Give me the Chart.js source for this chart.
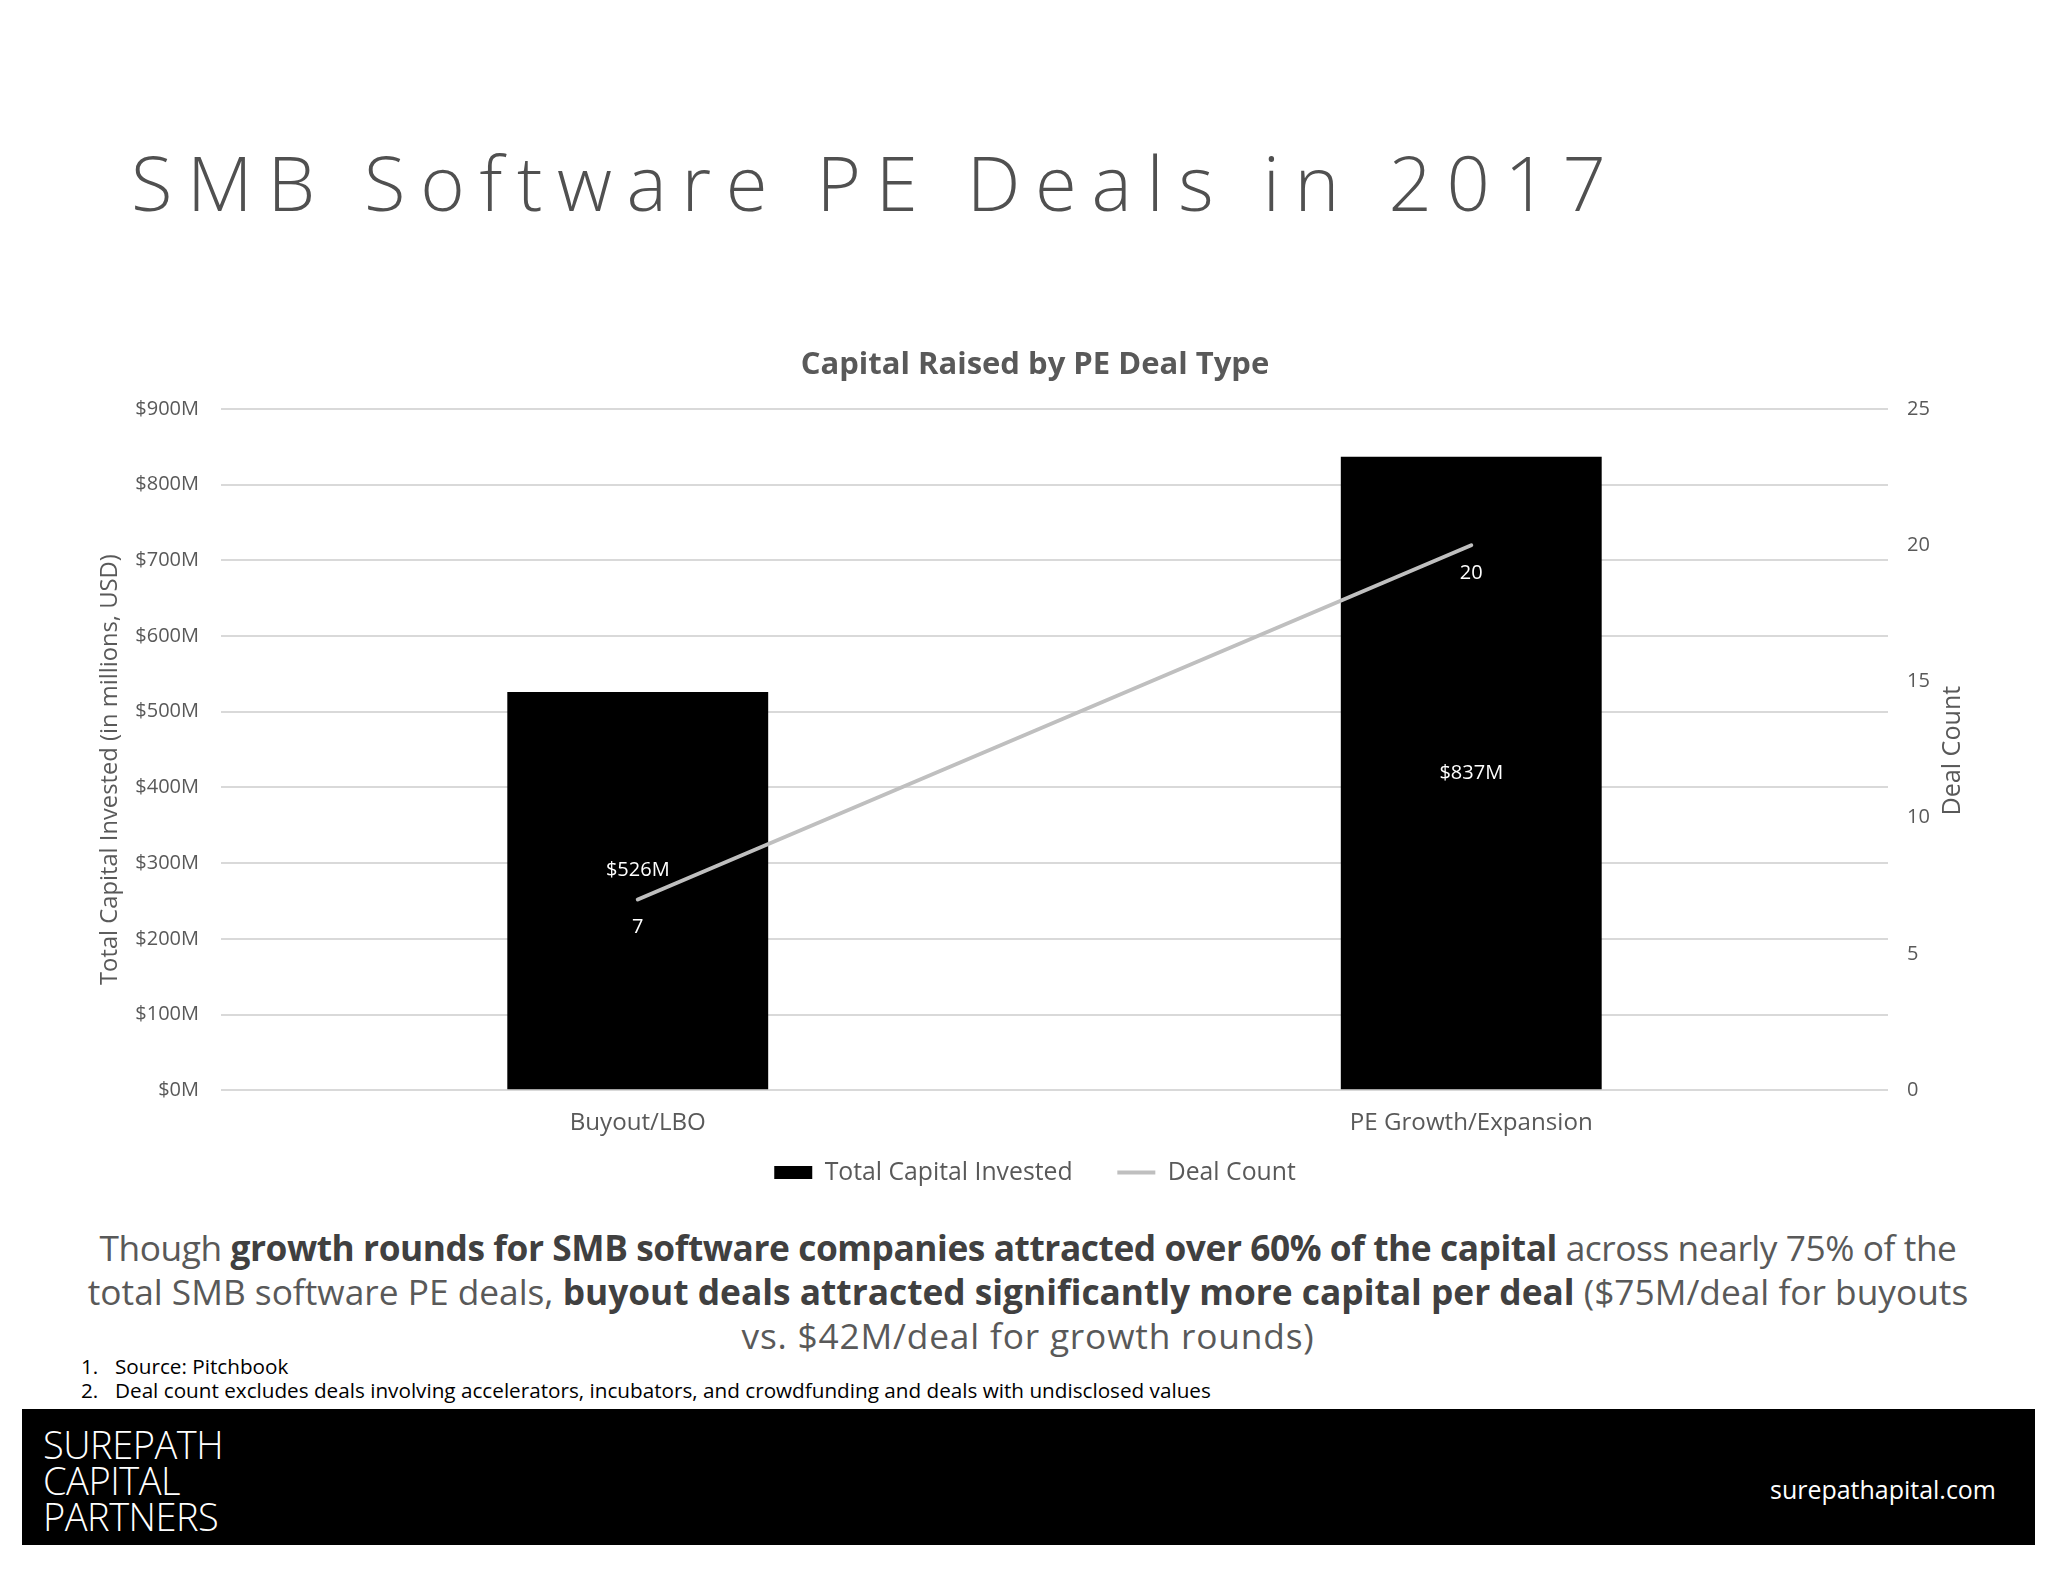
<!DOCTYPE html>
<html>
<head>
<meta charset="utf-8">
<script src="https://cdn.jsdelivr.net/npm/chart.js@4/dist/chart.umd.min.js"></script>
<style>
  html, body { margin: 0; padding: 0; background: #fff; }
  body { width: 2048px; height: 1582px; position: relative; overflow: hidden; font-family: "Open Sans", sans-serif; }
  #title { position: absolute; left: 131px; top: 144px; font-size: 76px; line-height: 1; font-weight: 300; color: #505050; white-space: nowrap; }
  #chartBox { position: absolute; left: 0; top: 300px; width: 2048px; height: 900px; }
  #para { position: absolute; left: 0; width: 2056px; top: 1225px; text-align: center; color: #595959; font-size: 35px; line-height: 44px; }
  #para b { color: #404040; font-weight: 700; }
  #para span.ln { white-space: nowrap; }
  .note { position: absolute; font-size: 18px; line-height: 24px; color: #000; white-space: nowrap; }
  #footer { position: absolute; left: 22px; top: 1409px; width: 2013px; height: 136px; background: #000; }
  #logo { position: absolute; left: 21px; top: 17px; color: #fff; font-size: 38px; line-height: 36px; font-weight: 300; white-space: nowrap; }
  #site { position: absolute; right: 39px; top: 66px; color: #fff; font-size: 24px; line-height: 28px; white-space: nowrap; }
</style>
</head>
<body>
<div id="title">SMB Software PE Deals in 2017</div>
<div id="chartBox"><canvas id="c"></canvas></div>
<div id="para">
  <span class="ln" id="l1">Though <b>growth rounds for SMB software companies attracted over 60% of the capital</b> across nearly 75% of the</span><br>
  <span class="ln" id="l2">total SMB software PE deals, <b>buyout deals attracted significantly more capital per deal</b> ($75M/deal for buyouts</span><br>
  <span class="ln" id="l3">vs. $42M/deal for growth rounds)</span>
</div>
<div class="note" style="left:81px; top:1354px;">1.</div>
<div class="note" id="n1" style="left:115px; top:1354px;">Source: Pitchbook</div>
<div class="note" style="left:81px; top:1378px;">2.</div>
<div class="note" id="n2" style="left:115px; top:1378px;">Deal count excludes deals involving accelerators, incubators, and crowdfunding and deals with undisclosed values</div>
<div id="footer">
  <div id="logo">SUREPATH<br>CAPITAL<br>PARTNERS</div>
  <div id="site">surepathapital.com</div>
</div>
<script>
// ---- data ----
const categories = ['Buyout/LBO', 'PE Growth/Expansion'];
const capitalInvested = [526, 837];   // $M
const dealCount = [7, 20];
const capitalTicks = [0, 100, 200, 300, 400, 500, 600, 700, 800, 900];
const countTicks = [0, 5, 10, 15, 20, 25];
const seriesNames = ['Total Capital Invested', 'Deal Count'];
const chartTitle = 'Capital Raised by PE Deal Type';
const leftAxisTitle = 'Total Capital Invested (in millions, USD)';
const rightAxisTitle = 'Deal Count';

const FONT = '"Open Sans", sans-serif';

function fitFontSize(el, target) {
  const w = el.getBoundingClientRect().width;
  const fs = parseFloat(getComputedStyle(el).fontSize);
  return fs * target / w;
}
function fitSpacing(el, target) {
  el.style.letterSpacing = '0px';
  const w = el.getBoundingClientRect().width;
  const n = el.textContent.length;
  el.style.letterSpacing = ((target - w) / n) + 'px';
}
const mctx = document.createElement('canvas').getContext('2d');
function canvasFit(text, weight, target) {
  mctx.font = weight + ' 100px ' + FONT;
  return 100 * target / mctx.measureText(text).width;
}

function layoutText() {
  const t = document.getElementById('title');
  t.style.letterSpacing = '0px';
  const w = t.getBoundingClientRect().width;
  const n = t.textContent.length;
  t.style.letterSpacing = ((1475 - w) / (n - 1)) + 'px';

  const para = document.getElementById('para');
  const l2 = document.getElementById('l2');
  para.style.fontSize = fitFontSize(l2, 1881) + 'px';
  fitSpacing(document.getElementById('l1'), 1857);
  fitSpacing(document.getElementById('l3'), 573);

  const n2 = document.getElementById('n2');
  const fsn = fitFontSize(n2, 1097);
  document.querySelectorAll('.note').forEach(e => e.style.fontSize = fsn + 'px');

  const logo = document.getElementById('logo');
  const span = document.createElement('span');
  span.textContent = 'SUREPATH';
  span.style.font = getComputedStyle(logo).font;
  span.style.position = 'absolute'; span.style.visibility = 'hidden'; span.style.whiteSpace = 'nowrap';
  document.body.appendChild(span);
  const lw = span.getBoundingClientRect().width;
  document.body.removeChild(span);
  logo.style.letterSpacing = ((180 - lw) / 8) + 'px';

  const site = document.getElementById('site');
  site.style.fontSize = fitFontSize(site, 226) + 'px';
}

const barLabelShift = [-20, 0];
const valueLabels = {
  id: 'valueLabels',
  afterDatasetsDraw(chart) {
    const ctx = chart.ctx;
    ctx.save();
    ctx.font = '20px ' + FONT;
    ctx.fillStyle = '#ffffff';
    ctx.textAlign = 'center';
    ctx.textBaseline = 'middle';
    chart.getDatasetMeta(0).data.forEach((el, i) => {
      ctx.fillText('$' + capitalInvested[i] + 'M', el.x, (el.y + el.base) / 2 + barLabelShift[i]);
    });
    chart.getDatasetMeta(1).data.forEach((pt, i) => {
      ctx.fillText(String(dealCount[i]), pt.x, pt.y + 28);
    });
    ctx.restore();
  }
};

let leftTitleSize = 21, rightTitleSize = 22;
const axisTitles = {
  id: 'axisTitles',
  afterDraw(chart) {
    const ctx = chart.ctx;
    const ca = chart.chartArea;
    ctx.save();
    ctx.fillStyle = '#595959';
    ctx.textAlign = 'center';
    ctx.textBaseline = 'middle';
    ctx.save();
    ctx.font = leftTitleSize + 'px ' + FONT;
    ctx.translate(110, (ca.top + ca.bottom) / 2 + 20);
    ctx.rotate(-Math.PI / 2);
    ctx.fillText(leftAxisTitle, 0, 0);
    ctx.restore();
    ctx.save();
    ctx.font = rightTitleSize + 'px ' + FONT;
    ctx.translate(1953, (ca.top + ca.bottom) / 2 + 1);
    ctx.rotate(-Math.PI / 2);
    ctx.fillText(rightAxisTitle, 0, 0);
    ctx.restore();
    ctx.restore();
  }
};

function makeChart() {
  Chart.defaults.font.family = FONT;
  Chart.defaults.color = '#595959';
  leftTitleSize = canvasFit(leftAxisTitle, 'normal', 431);
  rightTitleSize = canvasFit(rightAxisTitle, 'normal', 130);
  const titleSize = Math.min(31, canvasFit(chartTitle, 'bold', 470));
  const xTickSize = canvasFit(categories[1], 'normal', 243);
  const legendSize = canvasFit(seriesNames[0], 'normal', 248);
  const titleLH = titleSize * 1.2;
  const defaultLabels = Chart.defaults.plugins.legend.labels.generateLabels;

  new Chart(document.getElementById('c'), {
    type: 'bar',
    data: {
      labels: categories,
      datasets: [
        {
          type: 'bar', label: seriesNames[0], data: capitalInvested,
          backgroundColor: '#000000', borderWidth: 0, yAxisID: 'y', order: 2,
          barPercentage: 0.313, categoryPercentage: 1.0, pointStyle: 'rect'
        },
        {
          type: 'line', label: seriesNames[1], data: dealCount,
          borderColor: '#BFBFBF', backgroundColor: '#BFBFBF', borderWidth: 4,
          pointRadius: 0, yAxisID: 'y1', order: 1, pointStyle: 'line', borderCapStyle: 'round'
        }
      ]
    },
    options: {
      responsive: true, maintainAspectRatio: false, animation: false,
      devicePixelRatio: 1,
      layout: { padding: { left: 40, right: 18, top: 0, bottom: 5 } },
      plugins: {
        title: {
          display: true, text: chartTitle, color: '#595959',
          font: { size: titleSize, weight: 'bold' },
          padding: { top: 65 - titleLH / 2, bottom: 109 - (65 - titleLH / 2) - titleLH }
        },
        legend: {
          position: 'bottom',
          labels: {
            usePointStyle: true, pointStyleWidth: 38, boxHeight: 13,
            font: { size: legendSize }, color: '#595959', padding: 20,
            sort: (a, b) => a.datasetIndex - b.datasetIndex,
            generateLabels(chart) {
              const items = defaultLabels(chart);
              items.forEach(it => { if (it.datasetIndex === 0) it.text = it.text + '\u2002\u2002'; });
              return items;
            }
          }
        },
        tooltip: { enabled: false }
      },
      scales: {
        x: {
          grid: { display: false, drawTicks: false },
          border: { display: false },
          ticks: { font: { size: xTickSize }, color: '#595959', padding: 18 },
          afterFit(s) { s.height = 50; }
        },
        y: {
          position: 'left', min: 0, max: 900,
          afterBuildTicks(s) { s.ticks = capitalTicks.map(v => ({ value: v })); },
          grid: { color: '#D9D9D9', lineWidth: 2, drawTicks: false },
          border: { display: false },
          ticks: { font: { size: 20 }, color: '#595959', padding: 22, callback: v => '$' + v + 'M' },
          afterFit(s) { s.width = 181; }
        },
        y1: {
          position: 'right', min: 0, max: 25,
          afterBuildTicks(s) { s.ticks = countTicks.map(v => ({ value: v })); },
          grid: { display: false, drawTicks: false },
          border: { display: false },
          ticks: { font: { size: 20 }, color: '#595959', padding: 19 },
          afterFit(s) { s.width = 142; }
        }
      }
    },
    plugins: [valueLabels, axisTitles]
  });
}

const ready = (document.fonts && document.fonts.load)
  ? Promise.all([document.fonts.load('20px "Open Sans"'), document.fonts.load('bold 20px "Open Sans"'), document.fonts.load('300 20px "Open Sans"')]).catch(() => {})
  : Promise.resolve();
ready.then(() => { layoutText(); makeChart(); });
</script>
</body>
</html>
